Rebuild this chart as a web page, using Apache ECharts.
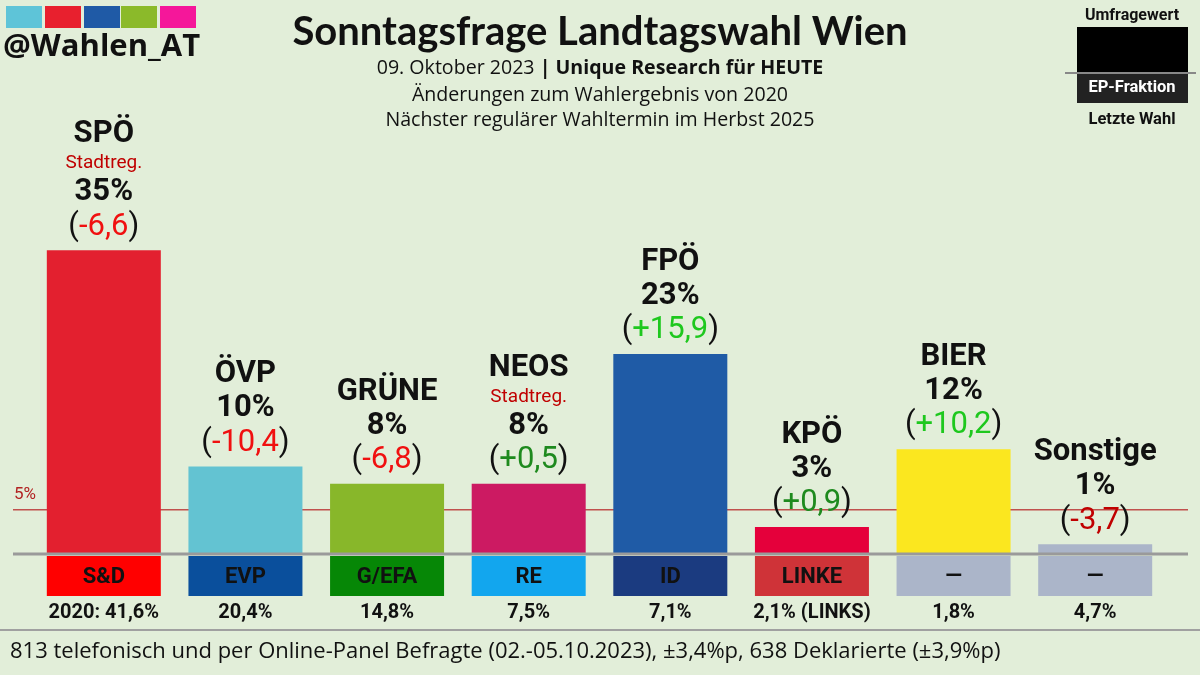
<!DOCTYPE html>
<html>
<head>
<meta charset="utf-8">
<script src="https://cdn.jsdelivr.net/npm/echarts@6/dist/echarts.min.js"></script>
<style>
html,body{margin:0;padding:0;background:#e2eed9;}
#chart{width:1200px;height:675px;}
</style>
</head>
<body>
<div id="chart"></div>
<script>
// ---- data ----
const categories = ['SPÖ', 'ÖVP', 'GRÜNE', 'NEOS', 'FPÖ', 'KPÖ', 'BIER', 'Sonstige'];
const values = [35, 10, 8, 8, 23, 3, 12, 1];
const changes = ['-6,6', '-10,4', '-6,8', '+0,5', '+15,9', '+0,9', '+10,2', '-3,7'];
const notes = ['Stadtreg.', '', '', 'Stadtreg.', '', '', '', ''];
const epGroups = ['S&D', 'EVP', 'G/EFA', 'RE', 'ID', 'LINKE', '—', '—'];
const prevResults = ['2020: 41,6%', '20,4%', '14,8%', '7,5%', '7,1%', '2,1% (LINKS)', '1,8%', '4,7%'];
const thresholdValue = 5;

// ---- styles ----
const barColors = ['#e3202f', '#63c3d2', '#88b72a', '#cc1a62', '#1f5ba6', '#e5003b', '#fbe71f', '#abb5c9'];
const epColors = ['#ff0000', '#0a4f9c', '#068706', '#12a6ee', '#1b3b80', '#cf3338', '#abb5c9', '#abb5c9'];
const BAR_W = 114;
const FONT = 'Roboto';
const FS = 31;

function changeStyle(s) {
  const v = parseFloat(s.replace(',', '.'));
  if (v < 0) return Math.abs(v) >= 5 ? 'r1' : 'r2';
  return Math.abs(v) >= 5 ? 'g1' : 'g2';
}

const chart = echarts.init(document.getElementById('chart'));

const option = {
  backgroundColor: '#e2eed9',
  animation: false,
  grid: { left: 33, right: 34, top: 207, bottom: 122 },
  xAxis: { type: 'category', data: categories, show: false },
  yAxis: { type: 'value', min: 0, max: 40, show: false },
  series: [
    {
      type: 'bar',
      barWidth: BAR_W,
      z: 3,
      data: values.map((v, i) => ({ value: v, itemStyle: { color: barColors[i] } })),
      label: {
        show: true,
        position: 'top',
        distance: 6,
        align: 'center',
        formatter: function (p) {
          const i = p.dataIndex;
          let s = '{n|' + categories[i] + '}\n';
          if (notes[i]) s += '{s|' + notes[i] + '}\n';
          s += '{p|' + String(values[i]) + '%}\n';
          s += '{b|(}{' + changeStyle(changes[i]) + '|' + changes[i] + '}{b|)}';
          return s;
        },
        rich: {
          n: { fontFamily: FONT, fontSize: FS, fontWeight: 'bold', color: '#111', lineHeight: 34, align: 'center' },
          s: { fontFamily: FONT, fontSize: 19, color: '#c00000', lineHeight: 24, align: 'center' },
          p: { fontFamily: FONT, fontSize: FS, fontWeight: 'bold', color: '#111', lineHeight: 34, align: 'center' },
          b: { fontFamily: FONT, fontSize: FS, color: '#111', lineHeight: 35 },
          r1: { fontFamily: FONT, fontSize: FS, color: '#f01010', lineHeight: 35 },
          r2: { fontFamily: FONT, fontSize: FS, color: '#c00000', lineHeight: 35 },
          g1: { fontFamily: FONT, fontSize: FS, color: '#1ec81e', lineHeight: 35 },
          g2: { fontFamily: FONT, fontSize: FS, color: '#1e8a1e', lineHeight: 35 }
        }
      }
    },
    {
      type: 'custom',
      z: 4,
      clip: false,
      data: categories.map((c, i) => [i, 0]),
      renderItem: function (params, api) {
        const i = api.value(0);
        const p = api.coord([i, 0]);
        return {
          type: 'group',
          children: [
            { type: 'rect', shape: { x: p[0] - BAR_W / 2, y: p[1] + 3, width: BAR_W, height: 40 }, style: { fill: epColors[i] } },
            { type: 'text', style: { text: epGroups[i], x: p[0], y: p[1] + 24, align: 'center', verticalAlign: 'middle', font: 'bold 22px Roboto', fill: '#111' } },
            { type: 'text', style: { text: prevResults[i], x: p[0], y: p[1] + 60, align: 'center', verticalAlign: 'middle', font: 'bold 20px Roboto', fill: '#111' } }
          ]
        };
      }
    }
  ]
};
chart.setOption(option);

const y0 = chart.convertToPixel({ yAxisIndex: 0 }, 0);
const y5 = chart.convertToPixel({ yAxisIndex: 0 }, thresholdValue);

const logoColors = ['#5ec4d8', '#e8202e', '#1f5aa6', '#8bba2a', '#f5179a'];
const logoX = [6, 45, 84, 121, 160];
const graphics = [];
logoX.forEach((x, i) => graphics.push({ type: 'rect', shape: { x: x, y: 6, width: 36, height: 22 }, style: { fill: logoColors[i] }, z: 1 }));
graphics.push(
  { type: 'text', style: { text: '@Wahlen_AT', x: 3, y: 47, verticalAlign: 'middle', font: 'bold 31px "Open Sans"', fill: '#111' } },
  { type: 'text', style: { text: 'Sonntagsfrage Landtagswahl Wien', x: 600, y: 32, align: 'center', verticalAlign: 'middle', font: 'bold 40px Lato', fill: '#111' } },
  { type: 'text', style: { rich: { a: { font: '19.6px "Open Sans"', fill: '#111' }, b: { font: 'bold 19.6px "Open Sans"', fill: '#111' } }, text: '{a|09. Oktober 2023 }{b|| Unique Research für HEUTE}', x: 600, y: 68, align: 'center', verticalAlign: 'middle' } },
  { type: 'text', style: { text: 'Änderungen zum Wahlergebnis von 2020', x: 600, y: 95, align: 'center', verticalAlign: 'middle', font: '19.6px "Open Sans"', fill: '#111' } },
  { type: 'text', style: { text: 'Nächster regulärer Wahltermin im Herbst 2025', x: 600, y: 120, align: 'center', verticalAlign: 'middle', font: '19.6px "Open Sans"', fill: '#111' } },
  // legend top right
  { type: 'text', style: { text: 'Umfragewert', x: 1132, y: 16, align: 'center', verticalAlign: 'middle', font: 'bold 16px Roboto', fill: '#111' } },
  { type: 'rect', shape: { x: 1077, y: 27, width: 111, height: 46 }, style: { fill: '#000' } },
  { type: 'rect', shape: { x: 1077, y: 74, width: 111, height: 29 }, style: { fill: '#222' } },
  { type: 'line', shape: { x1: 1065, y1: 73, x2: 1196, y2: 73 }, style: { stroke: '#888', lineWidth: 2 }, z: 5 },
  { type: 'text', style: { text: 'EP-Fraktion', x: 1132, y: 88, align: 'center', verticalAlign: 'middle', font: 'bold 16.5px Roboto', fill: '#fff' }, z: 6 },
  { type: 'text', style: { text: 'Letzte Wahl', x: 1132, y: 120, align: 'center', verticalAlign: 'middle', font: 'bold 16.5px Roboto', fill: '#111' } },
  // threshold line
  { type: 'line', shape: { x1: 13, y1: y5, x2: 1188, y2: y5 }, style: { stroke: '#c0504d', lineWidth: 1.5 }, z: 0 },
  { type: 'text', style: { text: '5%', x: 14, y: y5 - 15, verticalAlign: 'middle', font: '17px Roboto', fill: '#b22222' }, z: 0 },
  // baseline
  { type: 'line', shape: { x1: 13, y1: y0 + 1, x2: 1188, y2: y0 + 1 }, style: { stroke: '#9a9a9a', lineWidth: 3 }, z: 100 },
  // footer
  { type: 'line', shape: { x1: 0, y1: 630, x2: 1200, y2: 630 }, style: { stroke: '#a0a0a0', lineWidth: 2 } },
  { type: 'text', style: { text: '813 telefonisch und per Online-Panel Befragte (02.-05.10.2023), ±3,4%p, 638 Deklarierte (±3,9%p)', x: 10, y: 652, verticalAlign: 'middle', font: '22px "Open Sans"', fill: '#111' } }
);
chart.setOption({ graphic: graphics });
</script>
</body>
</html>
